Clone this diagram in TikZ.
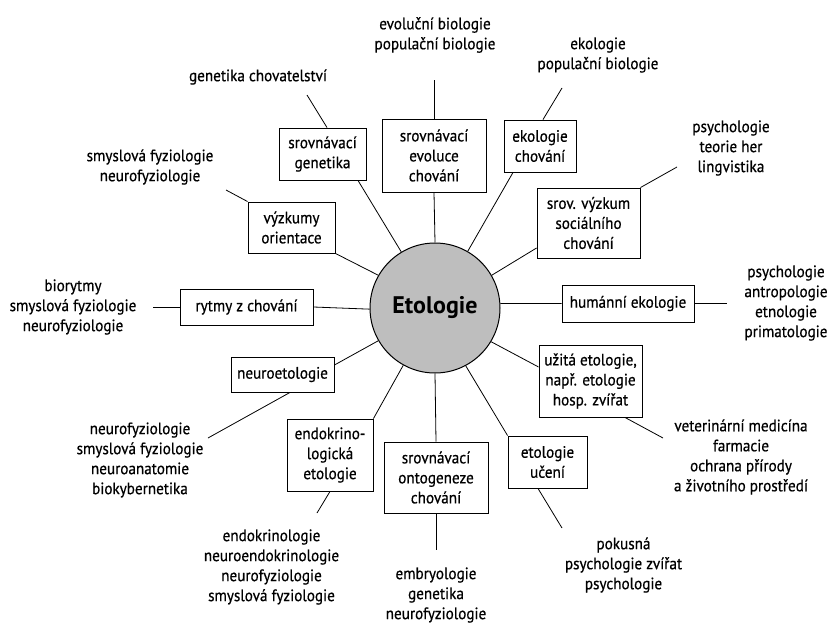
\documentclass[tikz,border=0pt]{standalone}
\usepackage{fontspec}
\setmainfont{PT Sans}[FakeStretch=0.92, FakeBold=0.6]
\newfontfamily\hubfont{PT Sans}[FakeStretch=1.0]
\definecolor{hubgray}{HTML}{BEBEBE}
\begin{document}
\begin{tikzpicture}[x=1pt,y=-1pt,
  every node/.style={font=\fontsize{16.5}{20}\selectfont, align=center, inner sep=0pt},
  topic/.style={draw, line width=0.9pt, fill=white},
  link/.style={line width=0.8pt},
  hub/.style={circle, draw, line width=1pt, fill=hubgray, minimum size=130pt, font=\hubfont\fontsize{24}{26}\selectfont\bfseries}]
\useasboundingbox (0,0) rectangle (830,624);

\node[hub] (c) at (435,308) {Etologie};

% boxes
\node[topic, minimum width=87pt, minimum height=52pt] (sg) at (322.5,154) {srovnávací\\genetika};
\node[topic, minimum width=87pt, minimum height=51pt] (vo) at (291.5,227.5) {výzkumy\\orientace};
\node[topic, minimum width=133pt, minimum height=36pt] (rc) at (246.5,307) {rytmy z chování};
\node[topic, minimum width=103pt, minimum height=35pt] (ne) at (282.5,374.5) {neuroetologie};
\node[topic, minimum width=86pt, minimum height=72pt] (en) at (330,455) {endokrino-\\logická\\etologie};
\node[topic, minimum width=104pt, minimum height=71pt] (so) at (436,477.5) {srovnávací\\ontogeneze\\chování};
\node[topic, minimum width=79pt, minimum height=52pt] (eu) at (547.5,462) {etologie\\učení};
\node[topic, minimum width=103pt, minimum height=72pt] (ue) at (590.5,381) {užitá etologie,\\např. etologie\\hosp. zvířat};
\node[topic, minimum width=132pt, minimum height=37pt] (he) at (628,303.5) {humánní ekologie};
\node[topic, minimum width=103pt, minimum height=70pt] (sv) at (588.5,223) {srov. výzkum\\sociálního\\chování};
\node[topic, minimum width=72pt, minimum height=52pt] (ek) at (540,146) {ekologie\\chování};
\node[topic, minimum width=104pt, minimum height=73pt] (se) at (434,155.5) {srovnávací\\evoluce\\chování};

% outer labels
\node (lsg) at (258,77) {genetika chovatelství};
\node (lvo) at (150,167) {smyslová fyziologie\\neurofyziologie};
\node (lrc) at (73,307) {biorytmy\\smyslová fyziologie\\neurofyziologie};
\node (lne) at (140,460) {neurofyziologie\\smyslová fyziologie\\neuroanatomie\\biokybernetika};
\node (len) at (271.5,567) {endokrinologie\\neuroendokrinologie\\neurofyziologie\\smyslová fyziologie};
\node (lso) at (436,595) {embryologie\\genetika\\neurofyziologie};
\node (leu) at (623.5,565) {pokusná\\psychologie zvířat\\psychologie};
\node (lue) at (741,457) {veterinární medicína\\farmacie\\ochrana přírody\\a životního prostředí};
\node (lhe) at (786,303) {psychologie\\antropologie\\etnologie\\primatologie};
\node (lsv) at (731,148) {psychologie\\teorie her\\lingvistika};
\node (lek) at (598,55) {ekologie\\populační biologie};
\node (lse) at (435,35) {evoluční biologie\\populační biologie};

% free ends of outer connectors
\coordinate (psg) at (307,95);
\coordinate (pvo) at (226,190);
\coordinate (prc) at (153,307);
\coordinate (pne) at (208,438);
\coordinate (pen) at (317,513);
\coordinate (pso) at (436,550);
\coordinate (peu) at (562,528);
\coordinate (pue) at (663,438);
\coordinate (phe) at (727,303.5);
\coordinate (psv) at (677,167);
\coordinate (pek) at (562,88);
\coordinate (pse) at (434,80);

% hub to boxes
\draw[link] (c.121) -- ([xshift=35.5pt]sg.south);
\draw[link] (c.150.7) -- (vo.south east);
\draw[link] (c.181) -- (rc.east);
\draw[link] (c.210.8) -- ([yshift=9.5pt]ne.east);
\draw[link] (c.241) -- (en.north east);
\draw[link] (c.270) -- (so.north);
\draw[link] (c.298.5) -- (eu.north west);
\draw[link] (c.329) -- ([yshift=14pt]ue.west);
\draw[link] (c.4) -- (he.west);
\draw[link] (c.30.8) -- ([yshift=-25pt]sv.west);
\draw[link] (c.60.4) -- ([xshift=-27pt]ek.south);
\draw[link] (c.90) -- (se.south);

% boxes to outer labels
\draw[link] ([xshift=4.5pt]sg.north) -- (psg);
\draw[link] (vo.north west) -- (pvo);
\draw[link] (rc.west) -- (prc);
\draw[link] ([xshift=7.5pt]ne.south) -- (pne);
\draw[link] (en.south) -- (pen);
\draw[link] (so.south) -- (pso);
\draw[link] ([xshift=-9.5pt]eu.south) -- (peu);
\draw[link] ([xshift=34.5pt]ue.south) -- (pue);
\draw[link] (he.east) -- (phe);
\draw[link] (sv.north east) -- (psv);
\draw[link] ([xshift=3pt]ek.north) -- (pek);
\draw[link] (se.north) -- (pse);
\end{tikzpicture}
\end{document}
